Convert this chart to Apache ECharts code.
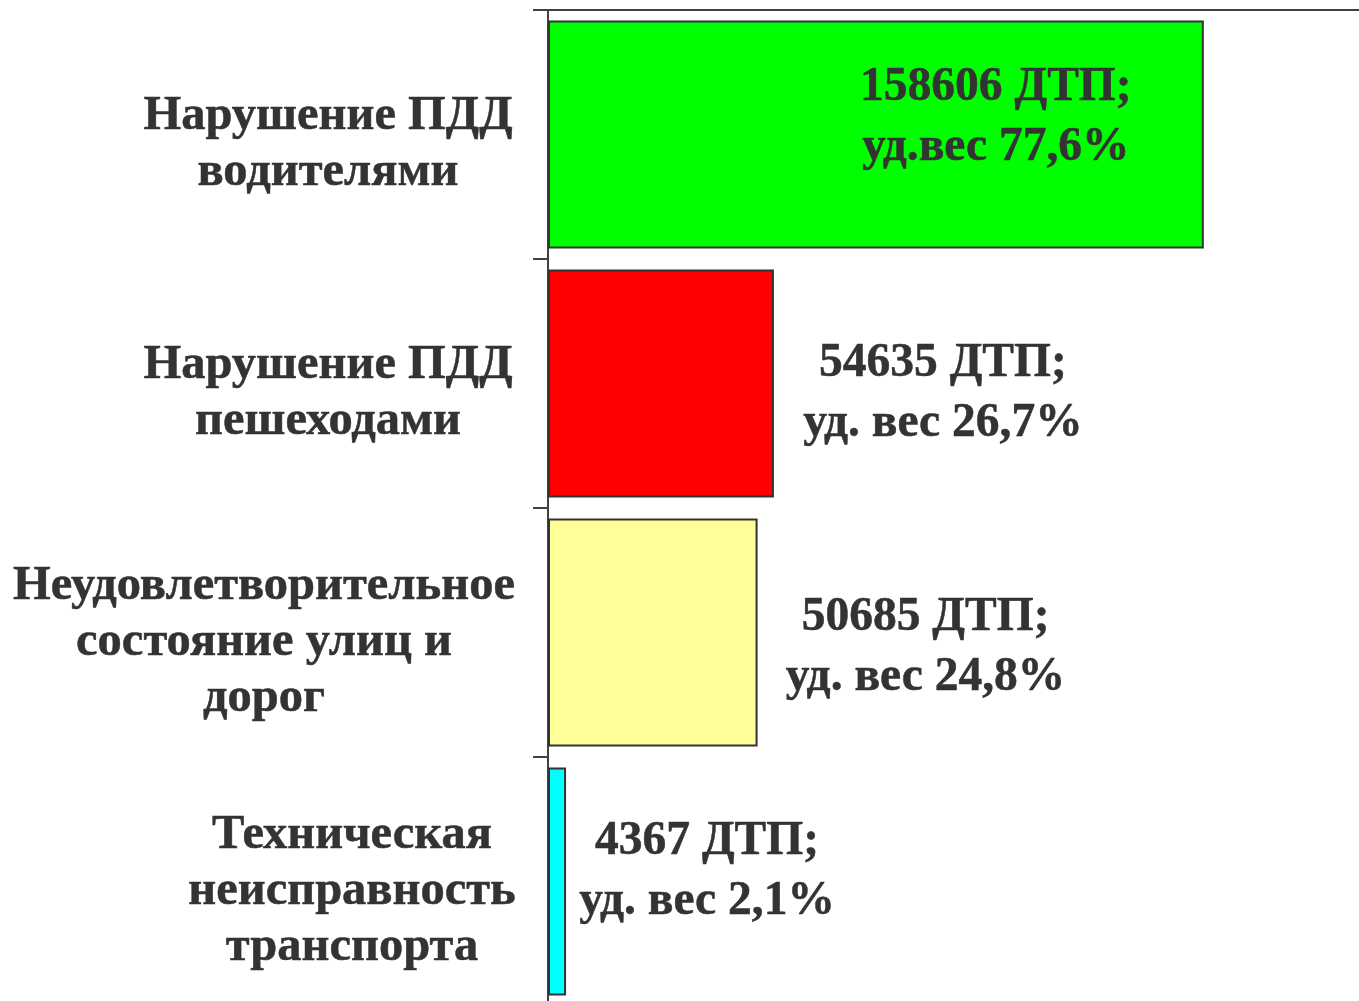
<!DOCTYPE html>
<html>
<head>
<meta charset="utf-8">
<script src="https://cdn.jsdelivr.net/npm/echarts@6/dist/echarts.min.js"></script>
<style>
html,body{margin:0;padding:0;background:#fff;}
#chart{width:1359px;height:1001px;}
</style>
</head>
<body>
<div id="chart"></div>
<script>
const categories = [
  'Нарушение ПДД\nводителями',
  'Нарушение ПДД\nпешеходами',
  'Неудовлетворительное\nсостояние улиц и\nдорог',
  'Техническая\nнеисправность\nтранспорта'
];
const accidents = [158606, 54635, 50685, 4367];
const shares = [77.6, 26.7, 24.8, 2.1];
const shareWords = ['уд.вес', 'уд. вес', 'уд. вес', 'уд. вес'];
const barColors = ['#00ff00', '#ff0000', '#ffff99', '#00ffff'];

const FONT = '"Liberation Serif", "Times New Roman", serif';
const TXT = '#333333';
const CAT_FS = 48.5;
const VAL_FS = 47.5;

const catWidths = [372, 372, 500, 324];
const rich = {};
catWidths.forEach((w, i) => {
  rich['w' + i] = {width: w, align: 'center', fontSize: CAT_FS, fontWeight: 'bold', fontFamily: FONT, color: TXT, lineHeight: 56,
    textBorderColor: TXT, textBorderWidth: 0.5};
});

const labelCfg = [
  {position: 'insideRight', distance: 208, offset: [0, -17]},
  {position: 'right', distance: 169, offset: [0, 10]},
  {position: 'right', distance: 168, offset: [0, 15]},
  {position: 'right', distance: 141, offset: [0, -10]}
];

const seriesData = accidents.map((v, i) => ({
  value: v,
  itemStyle: {color: barColors[i]},
  label: Object.assign({align: 'center'}, labelCfg[i])
}));

const chart = echarts.init(document.getElementById('chart'));
chart.setOption({
  animation: false,
  grid: {left: 548, top: 10, width: 827, height: 996, containLabel: false, outerBoundsMode: 'none'},
  xAxis: {
    type: 'value', position: 'top', min: 0, max: 200000,
    axisLine: {show: true, lineStyle: {color: '#404040', width: 2}},
    axisTick: {show: false}, axisLabel: {show: false}, splitLine: {show: false}
  },
  yAxis: {
    type: 'category', inverse: true, data: categories,
    axisLine: {show: true, lineStyle: {color: '#404040', width: 2}},
    axisTick: {show: true, length: 15, alignWithLabel: false, lineStyle: {color: '#404040', width: 2}},
    axisLabel: {
      margin: 34, align: 'right', padding: [20, 0, 0, 0],
      formatter: (val, idx) => val.split('\n').map(l => '{w' + idx + '|' + l + '}').join('\n'),
      rich: rich
    }
  },
  series: [{
    type: 'bar',
    data: seriesData,
    barCategoryGap: '8.5%',
    itemStyle: {borderColor: '#333333', borderWidth: 2},
    label: {
      show: true,
      fontFamily: FONT, fontSize: VAL_FS, fontWeight: 'bold', color: TXT, lineHeight: 60,
      textBorderColor: TXT, textBorderWidth: 0.5,
      formatter: p => p.value + ' ДТП;\n' + shareWords[p.dataIndex] + ' ' + String(shares[p.dataIndex]).replace('.', ',') + '%'
    }
  }]
});
</script>
</body>
</html>
